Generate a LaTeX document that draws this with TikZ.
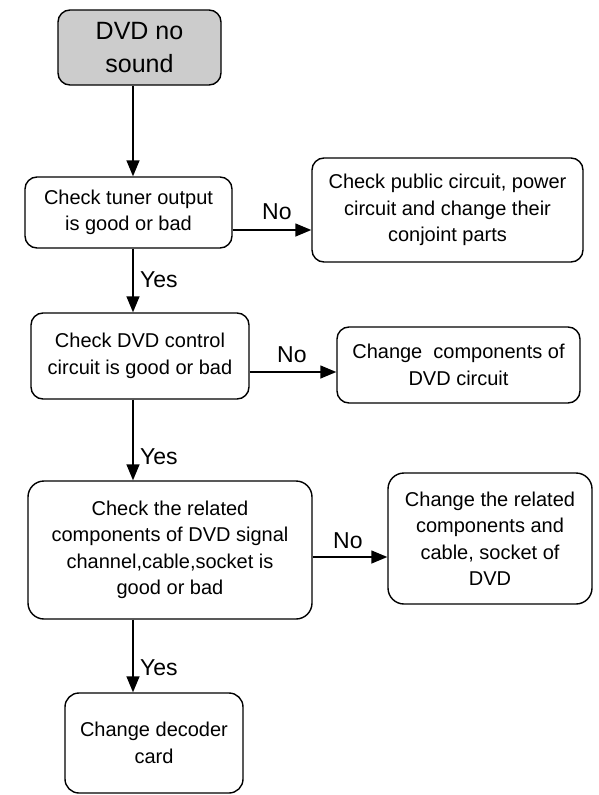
\documentclass[tikz,border=0pt]{standalone}
\usepackage{fontspec}
\setmainfont{Liberation Sans}
\usetikzlibrary{arrows.meta}
\begin{document}
\begin{tikzpicture}[x=1pt,y=-1pt,
  box/.style={draw,line width=1.4pt,rounded corners=12pt,align=center,inner sep=0pt,font=\fontsize{20}{26.5}\selectfont},
  arr/.style={line width=1.4pt,-{Triangle[length=16pt,width=13pt]}},
  lbl/.style={inner sep=0pt,anchor=west,font=\fontsize{23}{23}\selectfont}]
\useasboundingbox (0,0) rectangle (598,795);
\node[box,fill=gray!40,minimum width=163pt,minimum height=75pt,font=\fontsize{25}{33}\selectfont] (start) at (139.5,47.5) {DVD no\\sound};
\node[box,minimum width=207pt,minimum height=71pt] (tuner) at (128.5,212.5) {Check tuner output\\is good or bad};
\node[box,minimum width=271pt,minimum height=104pt] (public) at (447.5,210) {Check public circuit, power\\circuit and change their\\conjoint parts};
\node[box,minimum width=218pt,minimum height=86pt] (control) at (140,356) {Check DVD control\\circuit is good or bad};
\node[box,minimum width=243pt,minimum height=76pt] (dvdcirc) at (458.5,365) {Change~ components of\\DVD circuit};
\node[box,minimum width=284pt,minimum height=138pt,rounded corners=16pt] (signal) at (170,550) {Check the related\\components of DVD signal\\channel,cable,socket is\\good or bad};
\node[box,minimum width=204pt,minimum height=131pt,rounded corners=16pt] (cable) at (490,538.5) {Change the related\\components and\\cable, socket of\\DVD};
\node[box,minimum width=178pt,minimum height=100pt,rounded corners=14pt] (decoder) at (154,743) {Change decoder\\card};
\coordinate (spine) at (133,0);
\draw[arr] (start.south -| spine) -- (tuner.north -| spine);
\draw[arr] (tuner.south -| spine) -- (control.north -| spine);
\draw[arr] (control.south -| spine) -- (signal.north -| spine);
\draw[arr] (signal.south -| spine) -- (decoder.north -| spine);
\draw[arr] (tuner.east |- 0,230) -- (public.west |- 0,230);
\draw[arr] (control.east |- 0,372) -- (dvdcirc.west |- 0,372);
\draw[arr] (signal.east |- 0,557) -- (cable.west |- 0,557);
\node[lbl] (no1) at (262,211.5) {No};
\node[lbl] (no2) at (277,355) {No};
\node[lbl] (no3) at (333,541) {No};
\node[lbl] (yes1) at (140,280) {Yes};
\node[lbl] (yes2) at (140,456.5) {Yes};
\node[lbl] (yes3) at (140,667.5) {Yes};
\end{tikzpicture}
\end{document}
